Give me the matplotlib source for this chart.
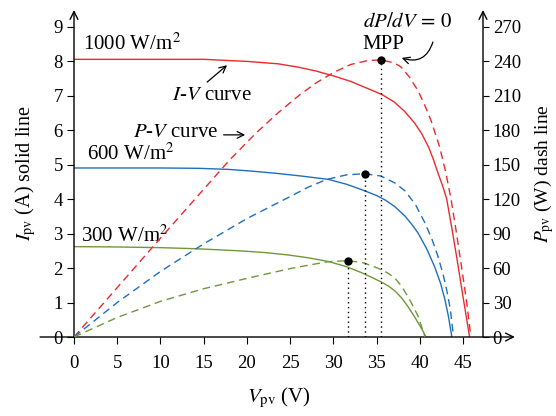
import numpy as np
import matplotlib
matplotlib.use("Agg")
import matplotlib.pyplot as plt

plt.rcParams['font.family'] = ['Liberation Serif', 'DejaVu Serif']
plt.rcParams['mathtext.fontset'] = 'stix'
plt.rcParams['font.size'] = 13.5

# I-V curves (solid)
v_1000 = [0, 10, 15, 17.5, 20, 23.6, 26, 28, 30, 32, 34, 35.6, 37, 38.2, 39.4, 40.2, 41.0,
          41.6, 42.1, 42.7, 43.1, 43.7, 44.3, 45.0, 45.75]
i_1000 = [8.05, 8.05, 8.05, 8.02, 7.99, 7.92, 7.82, 7.71, 7.57, 7.41, 7.2, 7.03, 6.82, 6.55, 6.2, 5.9, 5.51,
          5.12, 4.75, 4.33, 4.0, 3.15, 2.25, 1.15, 0]
v_600 = [0, 10, 14.4, 17.8, 20.5, 23.6, 26.5, 29.4, 31.5, 33.4, 35, 36, 37.1, 38.3, 39.2, 39.8,
         40.8, 41.7, 42.4, 42.9, 43.3, 43.7]
i_600 = [4.9, 4.9, 4.89, 4.86, 4.81, 4.74, 4.66, 4.57, 4.43, 4.26, 4.1, 3.97, 3.78, 3.5, 3.22, 3.01,
         2.55, 2.04, 1.55, 1.08, 0.6, 0]
v_300 = [0, 5, 10, 14, 19, 22, 24.7, 27, 29.4, 31.5, 33.2, 34.5, 35.5, 36.4, 37.1, 37.9, 38.6,
         39.3, 39.8, 40.3, 40.7]
i_300 = [2.62, 2.61, 2.59, 2.56, 2.5, 2.45, 2.38, 2.3, 2.19, 2.04, 1.87, 1.72, 1.6, 1.47, 1.34, 1.13, 0.89,
         0.62, 0.41, 0.2, 0]

# P-V curves (dashed), right axis in W
pv_v_1000 = [0, 5, 10, 14, 18, 21, 23.6, 26, 28, 30, 32, 34, 35.5, 37, 37.8, 38.8, 39.8, 40.6,
             41.3, 42.3, 43.0, 43.6, 44.2, 44.8, 45.4, 45.9]
pv_p_1000 = [0, 43, 86, 120, 154, 177, 195, 210, 221, 230, 237, 240.5, 241, 238.5, 235, 226, 214, 201,
             188, 165, 143, 120, 92, 62, 31, 0]
pv_v_600 = [0, 5, 10, 15, 20, 24.7, 27, 29.2, 31.5, 33.6, 35.5, 37.1, 38.3, 39.5, 40.6, 41.4,
            42.1, 42.7, 43.1, 43.5, 43.9]
pv_p_600 = [0, 30, 57, 81, 103, 121, 130, 137, 141, 142, 140, 134, 127, 115, 99, 85,
            70, 54, 41, 25, 0]
pv_v_300 = [0, 5, 10, 15, 20, 25, 27.5, 29.4, 31.7, 33.5, 35.1, 36.2, 37.1, 37.9, 38.6, 39.2,
            39.8, 40.2, 40.6]
pv_p_300 = [0, 17, 31, 42, 51, 59.5, 63, 65.5, 66.4, 64.5, 60, 56, 51.4, 44, 35.4, 27,
            18, 9, 0]

# maximum power points (V, P)
mpp_v = [35.5, 33.6, 31.7]
mpp_p = [241, 142, 66.4]

red = '#ec2a2e'
blue = '#1f6fbe'
green = '#6f9839'

fig = plt.figure(figsize=(5.56, 4.16), dpi=100)
ax = fig.add_axes([74 / 556, 79 / 416, 409 / 556, 327 / 416])
ax2 = ax.twinx()

ax.set_xlim(0, 47.3)
ax.set_ylim(0, 9.48)
ax2.set_ylim(0, 9.48 * 30)

for c, v, i in [(red, v_1000, i_1000), (blue, v_600, i_600), (green, v_300, i_300)]:
    ax.plot(v, i, color=c, lw=1.0)
for c, v, p in [(red, pv_v_1000, pv_p_1000), (blue, pv_v_600, pv_p_600), (green, pv_v_300, pv_p_300)]:
    ax2.plot(v, p, color=c, lw=1.0, dashes=(5.5, 3.5))

for v, p in zip(mpp_v, mpp_p):
    ax2.plot([v, v], [0, p], color='black', lw=1.0, ls=(0, (1, 2.5)))
    ax2.plot(v, p, 'o', color='black', ms=5)

for a in (ax, ax2):
    for s in a.spines.values():
        s.set_visible(False)

ax.set_xticks(np.arange(0, 50, 5))
ax.set_yticks(np.arange(0, 10, 1))
ax2.set_yticks(np.arange(0, 300, 30))
ax.tick_params(axis='x', direction='out', length=5, width=0.8, pad=8)
ax.tick_params(axis='y', direction='out', length=5, width=0.8, pad=3)
ax2.tick_params(axis='y', direction='out', length=4, width=0.8, pad=3)

arr = dict(arrowstyle='->', lw=1.0, color='black', shrinkA=0, shrinkB=0, mutation_scale=14)
ax.annotate('', xy=(0, 1), xytext=(0, 0), xycoords='axes fraction', arrowprops=arr)
ax.annotate('', xy=(1, 1), xytext=(1, 0), xycoords='axes fraction', arrowprops=arr)
ax.annotate('', xy=(1.078, 0), xytext=(-0.083, 0), xycoords='axes fraction', arrowprops=arr)

ax.set_xlabel(r'$V_{\rm pv}$ (V)', fontsize=15, labelpad=10)
ax.set_ylabel(r'$I_{\rm pv}$ (A) solid line', fontsize=14.5, labelpad=11)
ax2.set_ylabel(r'$P_{\rm pv}$ (W) dash line', fontsize=14, labelpad=8)

fs = 15
ax.text(1.0, 8.32, r'1000 W/m$^2$', fontsize=fs)
ax.text(1.5, 5.13, r'600 W/m$^2$', fontsize=fs)
ax.text(0.8, 2.76, r'300 W/m$^2$', fontsize=fs)
ax.text(11.3, 6.87, r'$I$-$V$ curve', fontsize=fs)
ax.text(6.8, 5.8, r'$P$-$V$ curve', fontsize=fs)
ax.text(33.4, 8.99, r'$dP/dV\,=\,0$', fontsize=fs)
ax.text(33.4, 8.34, 'MPP', fontsize=fs)

small = dict(arrowstyle='->', lw=0.9, color='black', shrinkA=0, shrinkB=0, mutation_scale=12)
ax.annotate('', xy=(17.7, 7.88), xytext=(15.4, 7.39), arrowprops=small)
ax.annotate('', xy=(19.8, 5.86), xytext=(17.3, 5.86), arrowprops=small)
ax.annotate('', xy=(37.9, 8.09), xytext=(41.5, 8.55),
            arrowprops=dict(small, connectionstyle='arc3,rad=-0.5'))

fig.savefig('out.png', dpi=100)
